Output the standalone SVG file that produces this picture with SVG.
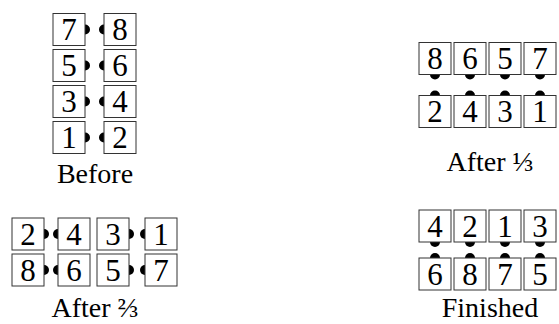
<svg xmlns="http://www.w3.org/2000/svg" width="559" height="324" viewBox="0 0 559 324">
<style>
rect.b{fill:#fff;stroke:#333;stroke-width:1}
circle.d{fill:#000}
text{font-family:"Liberation Serif","Times New Roman",serif;fill:#000}
text.n{font-size:31px;text-anchor:middle}
text.l{font-size:28px;text-anchor:middle}
</style>
<defs>
<rect id="box" class="b" width="32" height="32"/>
</defs>
<g id="connectors">
<!-- Before -->
<circle class="d" cx="85" cy="29.5" r="5"/><circle class="d" cx="104" cy="29.5" r="5"/>
<circle class="d" cx="85" cy="65.5" r="5"/><circle class="d" cx="104" cy="65.5" r="5"/>
<circle class="d" cx="85" cy="101.5" r="5"/><circle class="d" cx="104" cy="101.5" r="5"/>
<circle class="d" cx="85" cy="137.5" r="5"/><circle class="d" cx="104" cy="137.5" r="5"/>
<!-- After 1/3 -->
<circle class="d" cx="435" cy="74.5" r="5"/><circle class="d" cx="435" cy="95.5" r="5"/>
<circle class="d" cx="470" cy="74.5" r="5"/><circle class="d" cx="470" cy="95.5" r="5"/>
<circle class="d" cx="505" cy="74.5" r="5"/><circle class="d" cx="505" cy="95.5" r="5"/>
<circle class="d" cx="540" cy="74.5" r="5"/><circle class="d" cx="540" cy="95.5" r="5"/>
<!-- After 2/3 -->
<circle class="d" cx="44" cy="234" r="5"/><circle class="d" cx="58" cy="234" r="5"/>
<circle class="d" cx="129" cy="234" r="5"/><circle class="d" cx="145" cy="234" r="5"/>
<circle class="d" cx="44" cy="270" r="5"/><circle class="d" cx="58" cy="270" r="5"/>
<circle class="d" cx="129" cy="270" r="5"/><circle class="d" cx="145" cy="270" r="5"/>
<!-- Finished -->
<circle class="d" cx="435" cy="242" r="5"/><circle class="d" cx="435" cy="258" r="5"/>
<circle class="d" cx="470" cy="242" r="5"/><circle class="d" cx="470" cy="258" r="5"/>
<circle class="d" cx="505" cy="242" r="5"/><circle class="d" cx="505" cy="258" r="5"/>
<circle class="d" cx="540" cy="242" r="5"/><circle class="d" cx="540" cy="258" r="5"/>
</g>
<!-- Before -->
<g id="b7"><use href="#box" x="53" y="13.5"/><text class="n" x="69" y="40">7</text></g>
<g id="b8"><use href="#box" x="104" y="13.5"/><text class="n" x="120" y="40">8</text></g>
<g id="b5"><use href="#box" x="53" y="49.5"/><text class="n" x="69" y="76">5</text></g>
<g id="b6"><use href="#box" x="104" y="49.5"/><text class="n" x="120" y="76">6</text></g>
<g id="b3"><use href="#box" x="53" y="85.5"/><text class="n" x="69" y="112">3</text></g>
<g id="b4"><use href="#box" x="104" y="85.5"/><text class="n" x="120" y="112">4</text></g>
<g id="b1"><use href="#box" x="53" y="121.5"/><text class="n" x="69" y="148">1</text></g>
<g id="b2"><use href="#box" x="104" y="121.5"/><text class="n" x="120" y="148">2</text></g>
<text class="l" x="95" y="183">Before</text>
<!-- After 1/3 -->
<g id="a8"><use href="#box" x="419" y="42.5"/><text class="n" x="435" y="69">8</text></g>
<g id="a6"><use href="#box" x="454" y="42.5"/><text class="n" x="470" y="69">6</text></g>
<g id="a5"><use href="#box" x="489" y="42.5"/><text class="n" x="505" y="69">5</text></g>
<g id="a7"><use href="#box" x="524" y="42.5"/><text class="n" x="540" y="69">7</text></g>
<g id="a2"><use href="#box" x="419" y="95.5"/><text class="n" x="435" y="122">2</text></g>
<g id="a4"><use href="#box" x="454" y="95.5"/><text class="n" x="470" y="122">4</text></g>
<g id="a3"><use href="#box" x="489" y="95.5"/><text class="n" x="505" y="122">3</text></g>
<g id="a1"><use href="#box" x="524" y="95.5"/><text class="n" x="540" y="122">1</text></g>
<text class="l" x="490" y="171">After ⅓</text>
<!-- After 2/3 -->
<g id="c2"><use href="#box" x="12" y="218"/><text class="n" x="28" y="244.5">2</text></g>
<g id="c4"><use href="#box" x="58" y="218"/><text class="n" x="74" y="244.5">4</text></g>
<g id="c3"><use href="#box" x="97" y="218"/><text class="n" x="113" y="244.5">3</text></g>
<g id="c1"><use href="#box" x="145" y="218"/><text class="n" x="161" y="244.5">1</text></g>
<g id="c8"><use href="#box" x="12" y="254"/><text class="n" x="28" y="280.5">8</text></g>
<g id="c6"><use href="#box" x="58" y="254"/><text class="n" x="74" y="280.5">6</text></g>
<g id="c5"><use href="#box" x="97" y="254"/><text class="n" x="113" y="280.5">5</text></g>
<g id="c7"><use href="#box" x="145" y="254"/><text class="n" x="161" y="280.5">7</text></g>
<text class="l" x="95" y="317">After ⅔</text>
<!-- Finished -->
<g id="f4"><use href="#box" x="419" y="210"/><text class="n" x="435" y="236.5">4</text></g>
<g id="f2"><use href="#box" x="454" y="210"/><text class="n" x="470" y="236.5">2</text></g>
<g id="f1"><use href="#box" x="489" y="210"/><text class="n" x="505" y="236.5">1</text></g>
<g id="f3"><use href="#box" x="524" y="210"/><text class="n" x="540" y="236.5">3</text></g>
<g id="f6"><use href="#box" x="419" y="258"/><text class="n" x="435" y="284.5">6</text></g>
<g id="f8"><use href="#box" x="454" y="258"/><text class="n" x="470" y="284.5">8</text></g>
<g id="f7"><use href="#box" x="489" y="258"/><text class="n" x="505" y="284.5">7</text></g>
<g id="f5"><use href="#box" x="524" y="258"/><text class="n" x="540" y="284.5">5</text></g>
<text class="l" x="490" y="317">Finished</text>
</svg>
